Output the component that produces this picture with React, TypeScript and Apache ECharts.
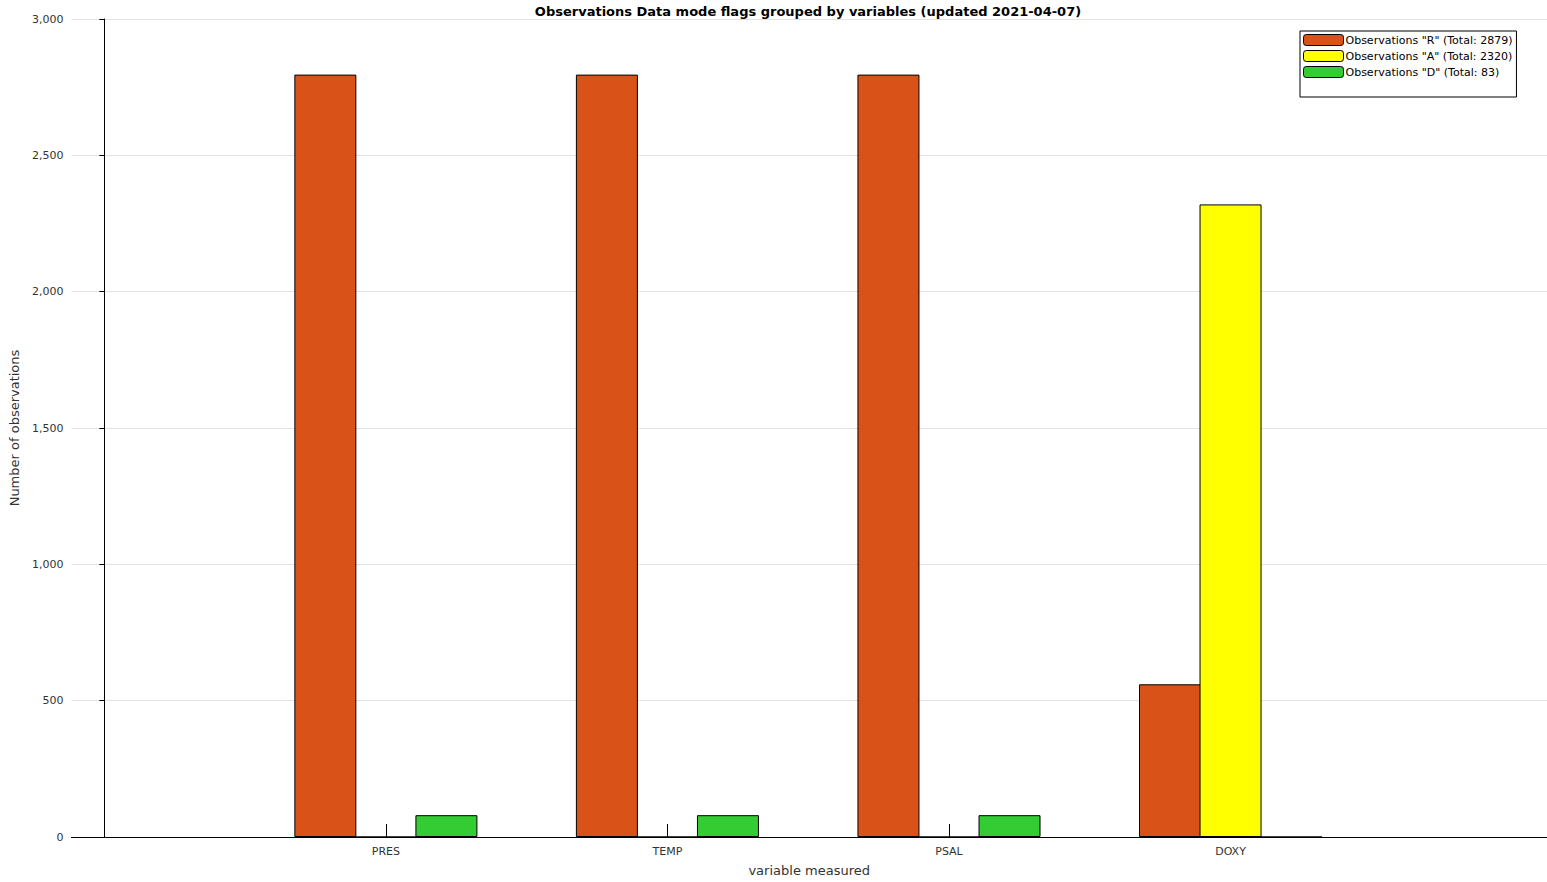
import { useEffect, useRef } from 'react';
import * as echarts from 'echarts';

const categories = ['PRES', 'TEMP', 'PSAL', 'DOXY'];
const seriesNames = ['Observations "R" (Total: 2879)', 'Observations "A" (Total: 2320)', 'Observations "D" (Total: 83)'];
const seriesColors = ['#d95319', '#ffff00', '#33cc33'];
const valuesR = [2796, 2796, 2796, 560];
const valuesA = [0, 0, 0, 2320];
const valuesD = [80, 80, 80, 0];
const offsets = [-0.215, 0, 0.215];

const font = 'DejaVu Sans';

const App = () => {
  const ref = useRef<HTMLDivElement>(null);

  useEffect(() => {
    if (!ref.current) return;
    const chart = echarts.init(ref.current, undefined, { renderer: 'svg' });
    const all = [valuesR, valuesA, valuesD];
    chart.setOption({
      animation: false,
      textStyle: { fontFamily: font },
      title: {
        text: 'Observations Data mode flags grouped by variables (updated 2021-04-07)',
        left: 803, textAlign: 'center', top: 0,
        textStyle: { fontSize: 13, fontWeight: 'bold', color: '#000', fontFamily: font }
      },
      grid: { left: 60, right: 0, top: 19, bottom: 40 },
      legend: {
        orient: 'vertical', left: 1300, top: 31, itemWidth: 40, itemHeight: 11, itemGap: 4,
        backgroundColor: '#fff', borderColor: '#000', borderWidth: 1, borderRadius: 0,
        padding: [3, 4, 19, 3],
        textStyle: { fontSize: 11, color: '#000', fontFamily: font, padding: [0, 0, 0, -3] },
        itemStyle: { borderColor: '#000', borderWidth: 1 },
        data: seriesNames
      },
      graphic: [{
        type: 'text', left: 1355, top: 80,
        style: { text: '[only ascent profiles]', font: `11px ${font}`, fill: '#000' }
      }],
      xAxis: {
        type: 'value', min: -0.117, max: 5.124,
        name: 'variable measured', nameLocation: 'middle', nameGap: 27,
        nameTextStyle: { fontSize: 13, color: '#333' },
        axisLine: { lineStyle: { color: '#000' } },
        splitLine: { show: false },
        axisTick: { inside: true, length: 13, customValues: [1, 2, 3, 4], lineStyle: { color: '#000' } },
        axisLabel: {
          customValues: [1, 2, 3, 4], fontSize: 11, color: '#333', margin: 9,
          formatter: (v: number) => categories[Math.round(v) - 1] ?? ''
        }
      },
      yAxis: {
        type: 'value', min: 0, max: 3000, interval: 500,
        name: 'Number of observations', nameLocation: 'middle', nameGap: 46,
        nameTextStyle: { fontSize: 13, color: '#333' },
        axisLine: { show: true, lineStyle: { color: '#000' } },
        axisTick: { show: true, length: 5, lineStyle: { color: '#000' } },
        axisLabel: { fontSize: 11, color: '#333', margin: 8 },
        splitLine: { lineStyle: { color: '#e2e2e2' } }
      },
      series: all.map((vals, i) => ({
        type: 'bar', name: seriesNames[i], barWidth: 62, barGap: '-100%',
        itemStyle: { color: seriesColors[i], borderColor: '#000', borderWidth: 1 },
        data: vals.map((v, j) => [j + 1 + offsets[i], v])
      }))
    });
    return () => chart.dispose();
  }, []);

  return <div ref={ref} style={{ position: 'fixed', left: 0, top: 0, width: 1547, height: 882, background: '#fff' }} />;
};

export default App;
